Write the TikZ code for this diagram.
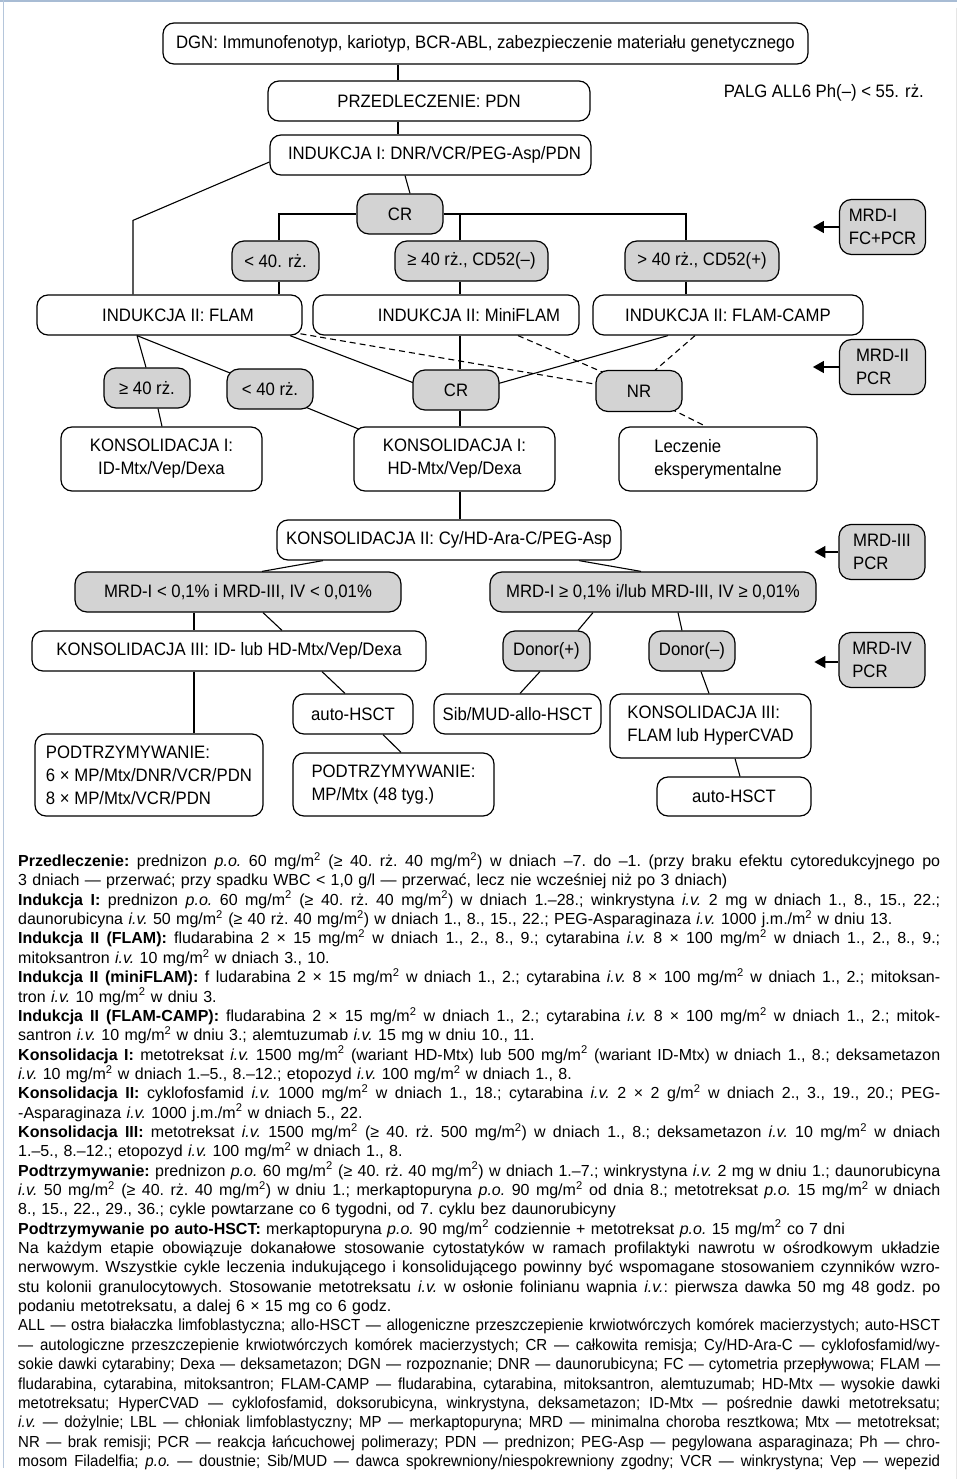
\documentclass[tikz,border=0pt]{standalone}
\usepackage{fontspec}
\setmainfont{Liberation Sans}
\newfontfamily\dfont[FakeStretch=0.93]{Liberation Sans}
\newfontfamily\condfam[FakeStretch=0.94]{Liberation Sans}
\usetikzlibrary{calc,arrows.meta,backgrounds}
\definecolor{gfill}{RGB}{211,211,211}
\definecolor{frameblue}{RGB}{168,188,212}
\newcommand\mgm{mg/m\textsuperscript{2}}
\newcommand\wspv{0.27em}
\newcommand\JL[1]{\par\noindent{\spaceskip=\wspv plus 1fil minus 0.07em\relax\xspaceskip=\spaceskip\hbox to 922pt{#1}}\par}
\newcommand\LL[1]{\par\noindent\hbox{#1}\par}
\newcommand\notefont{\fontsize{16}{19.35}\selectfont\frenchspacing}
\tikzset{
  box/.style={draw, line width=1.2pt, rounded corners=11pt, fill=white, inner sep=0pt, align=center, font=\dfont\fontsize{18}{23}\selectfont},
  gbox/.style={box, fill=gfill, rounded corners=12pt},
  conn/.style={line width=1.1pt},
  dconn/.style={conn, dash pattern=on 6pt off 4pt},
  mrdarrow/.style={line width=1.3pt, -{Triangle[length=11pt,width=12pt]}},
  mrd/.style={box, fill=gfill, rounded corners=12pt, minimum width=86pt, minimum height=55pt, align=left},
}
\begin{document}
\begin{tikzpicture}[x=1pt,y=-1pt]
\useasboundingbox (0,0) rectangle (957,1479);
% frame
\draw[frameblue, line width=2pt] (0,1) -- (957,1);
\draw[frameblue!85, line width=1.5pt] (3.5,0) -- (3.5,1468);
\draw[black!10, line width=1pt] (956.5,8) -- (956.5,1479);

% nodes
\node[box, minimum width=645pt, minimum height=41pt] (DGN) at (485.5,43.5) {DGN: Immunofenotyp, kariotyp, BCR-ABL, zabezpieczenie materiału genetycznego};
\node[box, minimum width=322pt, minimum height=40pt] (PRZED) at (429,101) {PRZEDLECZENIE: PDN};
\node[font=\dfont\fontsize{18}{22}\selectfont, anchor=east, inner sep=0pt] (palg) at (924,93) {PALG ALL6 Ph(–) < 55. rż.};
\node[box, minimum width=321pt, minimum height=40pt] (IND1) at (430.5,155) {\hspace*{8pt}INDUKCJA I: DNR/VCR/PEG-Asp/PDN};
\node[gbox, minimum width=86pt, minimum height=40pt] (CR1) at (400,214) {CR};
\node[gbox, minimum width=87pt, minimum height=40pt] (A1) at (275.5,261) {< 40. rż.};
\node[gbox, minimum width=153pt, minimum height=40pt] (A2) at (471.5,261) {≥ 40 rż., CD52(–)};
\node[gbox, minimum width=154pt, minimum height=40pt] (A3) at (702,261) {> 40 rż., CD52(+)};
\node[mrd] (MRD1) at (882.5,227) {MRD-I\\FC+PCR};

\node[box, minimum width=265pt, minimum height=40pt] (F) at (169.5,315) {\hspace*{17pt}INDUKCJA II: FLAM};
\node[box, minimum width=266pt, minimum height=40pt] (MF) at (446,315) {\hspace*{46pt}INDUKCJA II: MiniFLAM};
\node[box, minimum width=270pt, minimum height=40pt] (FC) at (728,315) {INDUKCJA II: FLAM-CAMP};

\node[gbox, minimum width=86pt, minimum height=40pt] (B1) at (147,388) {≥ 40 rż.};
\node[gbox, minimum width=86pt, minimum height=40pt] (B2) at (270,389) {< 40 rż.};
\node[gbox, minimum width=86pt, minimum height=40pt] (CR2) at (456,390) {CR};
\node[gbox, minimum width=86pt, minimum height=41pt] (NR) at (639,391) {NR};
\node[mrd] (MRD2) at (882.5,367) {MRD-II\\PCR};

\node[box, minimum width=201pt, minimum height=64pt] (K1a) at (161.5,459) {KONSOLIDACJA I:\\ID-Mtx/Vep/Dexa};
\node[box, minimum width=201pt, minimum height=64pt] (K1b) at (454.5,459) {KONSOLIDACJA I:\\HD-Mtx/Vep/Dexa};
\node[box, minimum width=198pt, minimum height=64pt, align=left] (LECZ) at (718,459) {Leczenie\\eksperymentalne};

\node[box, minimum width=344pt, minimum height=40pt] (K2) at (449,540) {KONSOLIDACJA II: Cy/HD-Ara-C/PEG-Asp};
\node[mrd] (MRD3) at (882,552) {MRD-III\\PCR};
\node[gbox, minimum width=326pt, minimum height=40pt] (G1) at (238,592) {MRD-I < 0,1\% i MRD-III, IV < 0,01\%};
\node[gbox, minimum width=326pt, minimum height=40pt] (G2) at (653,592) {MRD-I ≥ 0,1\% i/lub MRD-III, IV ≥ 0,01\%};

\node[box, minimum width=394pt, minimum height=40pt] (K3) at (229,651) {KONSOLIDACJA III: ID- lub HD-Mtx/Vep/Dexa};
\node[gbox, minimum width=87pt, minimum height=40pt] (DP) at (546.5,651) {Donor(+)};
\node[gbox, minimum width=86pt, minimum height=40pt] (DM) at (692,651) {Donor(–)};
\node[mrd] (MRD4) at (882,660) {MRD-IV\\PCR};

\node[box, minimum width=120pt, minimum height=40pt] (AH1) at (353,714) {auto-HSCT};
\node[box, minimum width=167pt, minimum height=40pt] (SIB) at (517.5,714) {Sib/MUD-allo-HSCT};
\node[box, minimum width=201pt, minimum height=64pt, align=left] (K3F) at (710.5,726) {KONSOLIDACJA III:\\FLAM lub HyperCVAD};
\node[box, minimum width=228pt, minimum height=82pt, align=left] (P1) at (149,775) {PODTRZYMYWANIE:\\6 × MP/Mtx/DNR/VCR/PDN\\8 × MP/Mtx/VCR/PDN};
\node[box, minimum width=201pt, minimum height=63pt, align=left] (P2) at (393.5,784.5) {PODTRZYMYWANIE:\\MP/Mtx (48 tyg.)};
\node[box, minimum width=154pt, minimum height=39pt] (AH2) at (734,796.5) {auto-HSCT};

% MRD arrows
\coordinate (m1t) at ($(MRD1.west)+(-26,0)$);
\coordinate (m2t) at ($(MRD2.west)+(-26,0)$);
\coordinate (m3t) at ($(MRD3.west)+(-24,0)$);
\coordinate (m4t) at ($(MRD4.west)+(-24,2)$);
\draw[mrdarrow] (MRD1.west) -- (m1t);
\draw[mrdarrow] (MRD2.west) -- (m2t);
\draw[mrdarrow] (MRD3.west) -- (m3t);
\draw[mrdarrow] ($(MRD4.west)+(0,2)$) -- (m4t);

\begin{pgfonlayer}{background}
\fill[white] (0,0) rectangle (957,1479);
\draw[conn] ($(DGN.south)+(-87.5,0)$) -- ($(PRZED.north)+(-31,0)$);
\draw[conn] ($(PRZED.south)+(-31,0)$) -- ($(IND1.north)+(-32.5,0)$);
\draw[conn] ($(IND1.south)+(-25.5,0)$) -- ($(CR1.north)+(10,0)$);
\coordinate (bendA) at ($(F.north)+(-36.5,-74)$);
\draw[conn] ($(IND1.west)+(0,7)$) -- (bendA) -- ($(F.north)+(-36.5,0)$);
\draw[conn] ($(A1.north)+(3.5,0)$) |- (CR1.west);
\draw[conn] (CR1.east) -| ($(A3.north)+(-16,0)$);
\coordinate (a2t) at ($(A2.north)+(-11.5,0)$);
\draw[conn] (a2t) -- (a2t |- CR1.east);
\draw[conn] ($(A1.south)+(3.5,0)$) -- ($(F.north)+(109.5,0)$);
\draw[conn] ($(A2.south)+(-11.5,0)$) -- ($(MF.north)+(14,0)$);
\draw[conn] ($(A3.south)+(-16,0)$) -- ($(FC.north)+(-42,0)$);
% from FLAM
\draw[conn] ($(F.south)+(-32.5,0)$) -- ($(B1.north)+(-1,0)$);
\draw[conn] ($(B1.south)+(11,0)$) -- ($(K1a.north)+(0.5,0)$);
\draw[conn] ($(F.south)+(-32.5,0)$) -- ($(B2.center)+(-30,-12)$);
\draw[conn] ($(B2.center)+(28,15)$) -- ($(K1b.north west)+(11,5)$);
\draw[conn] ($(F.south)+(120.5,0)$) -- ($(CR2.west)+(12,-3)$);
\draw[conn] ($(FC.south)+(-60,0)$) -- ($(CR2.east)+(-10,-4)$);
\draw[conn] ($(MF.south)+(14,0)$) -- ($(CR2.north)+(4,0)$);
\draw[conn] ($(CR2.south)+(4,0)$) -- ($(K1b.north)+(5.5,0)$);
\draw[conn] ($(K1b.south)+(5.5,0)$) -- ($(K2.north)+(11,0)$);
% dashed
\draw[dconn] ($(F.south east)+(-12,-3.5)$) -- ($(NR.west)+(9,-5.3)$);
\draw[dconn] ($(MF.south)+(72,0)$) -- ($(NR.north west)+(9,3)$);
\draw[dconn] ($(FC.south)+(-33,0)$) -- ($(NR.north)+(13,3)$);
\draw[dconn] ($(NR.south east)+(-12,-3.4)$) -- ($(LECZ.north)+(-12,0)$);
% lower part
\draw[conn] ($(K2.south)+(-126,0)$) -- ($(G1.north)+(24,0)$);
\draw[conn] ($(K2.south)+(130,0)$) -- ($(G2.north)+(-12,0)$);
\draw[conn] ($(G1.south)+(-44,0)$) -- ($(K3.north)+(-35,0)$);
\draw[conn] ($(G1.south)+(25,0)$) -- ($(K3.north)+(53,0)$);
\draw[conn] ($(K3.south)+(-35,0)$) -- ($(P1.north)+(45,0)$);
\draw[conn] ($(K3.south)+(93,0)$) -- ($(AH1.north)+(-8,0)$);
\draw[conn] ($(AH1.south)+(30,0)$) -- ($(P2.north)+(7.5,0)$);
\draw[conn] ($(G2.south)+(-60,0)$) -- ($(DP.north)+(31.5,0)$);
\draw[conn] ($(G2.south)+(25,0)$) -- ($(DM.north)+(-10,0)$);
\draw[conn] ($(DP.south)+(-6.5,0)$) -- ($(SIB.north)+(2.5,0)$);
\draw[conn] ($(DM.south)+(9,0)$) -- ($(K3F.north)+(-1.5,0)$);
\draw[conn] ($(K3F.south)+(24.5,0)$) -- ($(AH2.north)+(6,0)$);
\end{pgfonlayer}

% notes
\node[anchor=north west, inner sep=0pt, text width=922pt, font=\notefont] (notes) at (18,847) {%
\JL{\textbf{Przedleczenie:} prednizon \textit{p.o.} 60 \mgm{} (≥ 40. rż. 40 \mgm) w dniach –7. do –1. (przy braku efektu cytoredukcyjnego po}
\LL{3 dniach — przerwać; przy spadku WBC < 1,0 g/l — przerwać, lecz nie wcześniej niż po 3 dniach)}
\JL{\textbf{Indukcja I:} prednizon \textit{p.o.} 60 \mgm{} (≥ 40. rż. 40 \mgm) w dniach 1.–28.; winkrystyna \textit{i.v.} 2 mg w dniach 1., 8., 15., 22.;}
\LL{daunorubicyna \textit{i.v.} 50 \mgm{} (≥ 40 rż. 40 \mgm) w dniach 1., 8., 15., 22.; PEG-Asparaginaza \textit{i.v.} 1000 j.m./m\textsuperscript{2} w dniu 13.}
\JL{\textbf{Indukcja II (FLAM):} fludarabina 2 × 15 \mgm{} w dniach 1., 2., 8., 9.; cytarabina \textit{i.v.} 8 × 100 \mgm{} w dniach 1., 2., 8., 9.;}
\LL{mitoksantron \textit{i.v.} 10 \mgm{} w dniach 3., 10.}
\JL{\textbf{Indukcja II (miniFLAM):} f ludarabina 2 × 15 \mgm{} w dniach 1., 2.; cytarabina \textit{i.v.} 8 × 100 \mgm{} w dniach 1., 2.; mitoksan-}
\LL{tron \textit{i.v.} 10 \mgm{} w dniu 3.}
\JL{\textbf{Indukcja II (FLAM-CAMP):} fludarabina 2 × 15 \mgm{} w dniach 1., 2.; cytarabina \textit{i.v.} 8 × 100 \mgm{} w dniach 1., 2.; mitok-}
\LL{santron \textit{i.v.} 10 \mgm{} w dniu 3.; alemtuzumab \textit{i.v.} 15 mg w dniu 10., 11.}
\JL{\textbf{Konsolidacja I:} metotreksat \textit{i.v.} 1500 \mgm{} (wariant HD-Mtx) lub 500 \mgm{} (wariant ID-Mtx) w dniach 1., 8.; deksametazon}
\LL{\textit{i.v.} 10 \mgm{} w dniach 1.–5., 8.–12.; etopozyd \textit{i.v.} 100 \mgm{} w dniach 1., 8.}
\JL{\textbf{Konsolidacja II:} cyklofosfamid \textit{i.v.} 1000 \mgm{} w dniach 1., 18.; cytarabina \textit{i.v.} 2 × 2 g/m\textsuperscript{2} w dniach 2., 3., 19., 20.; PEG-}
\LL{-Asparaginaza \textit{i.v.} 1000 j.m./m\textsuperscript{2} w dniach 5., 22.}
\JL{\textbf{Konsolidacja III:} metotreksat \textit{i.v.} 1500 \mgm{} (≥ 40. rż. 500 \mgm) w dniach 1., 8.; deksametazon \textit{i.v.} 10 \mgm{} w dniach}
\LL{1.–5., 8.–12.; etopozyd \textit{i.v.} 100 \mgm{} w dniach 1., 8.}
\JL{\textbf{Podtrzymywanie:} prednizon \textit{p.o.} 60 \mgm{} (≥ 40. rż. 40 \mgm) w dniach 1.–7.; winkrystyna \textit{i.v.} 2 mg w dniu 1.; daunorubicyna}
\JL{\textit{i.v.} 50 \mgm{} (≥ 40. rż. 40 \mgm) w dniu 1.; merkaptopuryna \textit{p.o.} 90 \mgm{} od dnia 8.; metotreksat \textit{p.o.} 15 \mgm{} w dniach}
\LL{8., 15., 22., 29., 36.; cykle powtarzane co 6 tygodni, od 7. cyklu bez daunorubicyny}
\LL{\textbf{Podtrzymywanie po auto-HSCT:} merkaptopuryna \textit{p.o.} 90 \mgm{} codziennie + metotreksat \textit{p.o.} 15 \mgm{} co 7 dni}
\JL{Na każdym etapie obowiązuje dokanałowe stosowanie cytostatyków w ramach profilaktyki nawrotu w ośrodkowym układzie}
\JL{nerwowym. Wszystkie cykle leczenia indukującego i konsolidującego powinny być wspomagane stosowaniem czynników wzro-}
\JL{stu kolonii granulocytowych. Stosowanie metotreksatu \textit{i.v.} w osłonie folinianu wapnia \textit{i.v.}: pierwsza dawka 50 mg 48 godz. po}
\LL{podaniu metotreksatu, a dalej 6 × 15 mg co 6 godz.}
\condfam\renewcommand\wspv{0.24em}%
\JL{ALL — ostra białaczka limfoblastyczna; allo-HSCT — allogeniczne przeszczepienie krwiotwórczych komórek macierzystych; auto-HSCT}
\JL{— autologiczne przeszczepienie krwiotwórczych komórek macierzystych; CR — całkowita remisja; Cy/HD-Ara-C — cyklofosfamid/wy-}
\JL{sokie dawki cytarabiny; Dexa — deksametazon; DGN — rozpoznanie; DNR — daunorubicyna; FC — cytometria przepływowa; FLAM —}
\JL{fludarabina, cytarabina, mitoksantron; FLAM-CAMP — fludarabina, cytarabina, mitoksantron, alemtuzumab; HD-Mtx — wysokie dawki}
\JL{metotreksatu; HyperCVAD — cyklofosfamid, doksorubicyna, winkrystyna, deksametazon; ID-Mtx — pośrednie dawki metotreksatu;}
\JL{\textit{i.v.} — dożylnie; LBL — chłoniak limfoblastyczny; MP — merkaptopuryna; MRD — minimalna choroba resztkowa; Mtx — metotreksat;}
\JL{NR — brak remisji; PCR — reakcja łańcuchowej polimerazy; PDN — prednizon; PEG-Asp — pegylowana asparaginaza; Ph — chro-}
\JL{mosom Filadelfia; \textit{p.o.} — doustnie; Sib/MUD — dawca spokrewniony/niespokrewniony zgodny; VCR — winkrystyna; Vep — wepezid}
};
\end{tikzpicture}
\end{document}
